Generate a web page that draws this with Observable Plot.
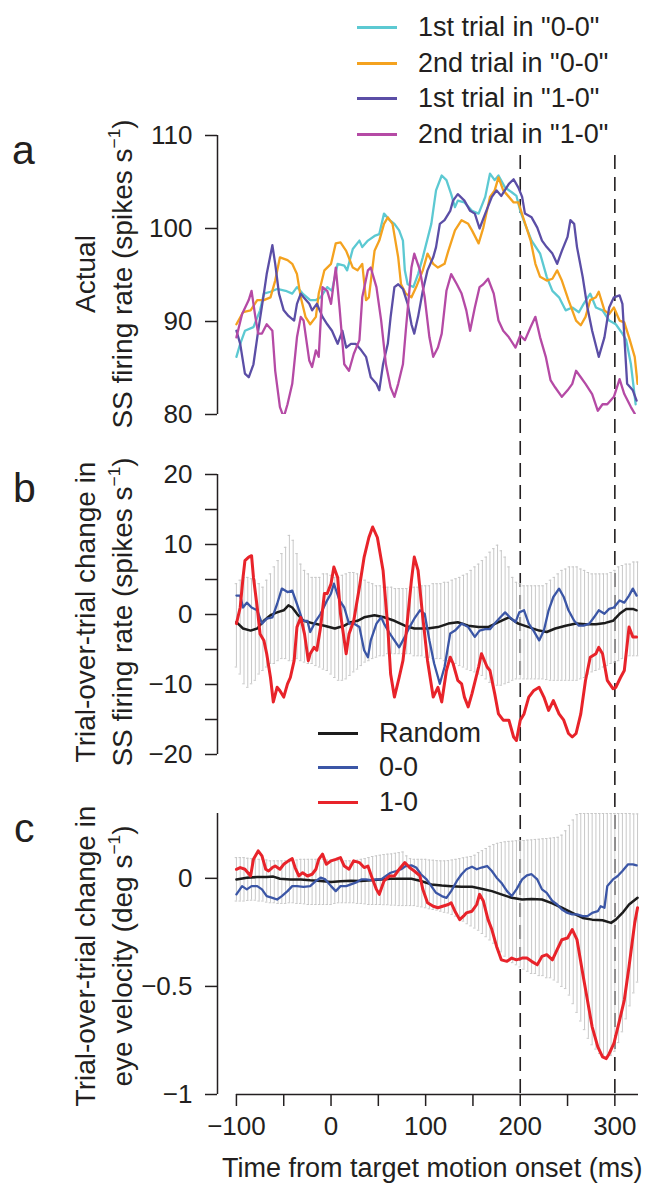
<!DOCTYPE html>
<html><head><meta charset="utf-8">
<script src="https://cdn.jsdelivr.net/npm/d3@7"></script>
<script src="https://cdn.jsdelivr.net/npm/@observablehq/plot@0.6"></script>
<style>
body{margin:0;background:#fff;}
#fig{position:relative;width:662px;height:1197px;font-family:"Liberation Sans",Arial,Helvetica,sans-serif;color:#231f20;overflow:hidden;background:#fff;}
.lbl{position:absolute;white-space:nowrap;line-height:1;font-size:27px;}
.rot{transform:translate(-50%,-50%) rotate(-90deg);font-size:28px;}
.letter{position:absolute;line-height:1;font-size:41px;}
.sw{position:absolute;height:3px;}
sup{font-size:0.62em;line-height:0;vertical-align:0.7em;}
</style></head><body><div id="fig"></div><script>
// ---------- DATA ----------
const xTicks = [-100,-50,0,50,100,150,200,250,300];
const aTicks = [80,90,100,110];
const bTicks = [-20,-15,-10,-5,0,5,10,15,20];
const cTicks = [-1,-0.5,0];
const dashTimes = [200,300];

const legendA = ['1st trial in "0-0"','2nd trial in "0-0"','1st trial in "1-0"','2nd trial in "1-0"'];
const colorsA = ["#5cc9d2","#f4a21f","#5b4ea6","#b54aa5"];
const legendB = ["Random","0-0","1-0"];
const colorsB = ["#1c1c1c","#3b56a6","#e8232a"];

// panel a: actual SS firing rate [ms, spikes/s]
const first00 = [[-100,86.2],[-96,87.6],[-91,89.0],[-82,89.4],[-75,91.2],[-71,93.0],[-64,93.2],[-57,93.5],[-48,93.3],[-41,93.0],[-36,93.7],[-30,93.0],[-22,92.3],[-16,92.3],[-11,92.6],[-4,93.7],[1,93.3],[7,96.2],[14,96.0],[17,95.5],[23,97.8],[30,98.7],[33,98.0],[39,98.7],[46,99.2],[51,99.4],[56,101.6],[62,100.9],[67,100.5],[72,99.8],[76,98.7],[78,95.5],[81,94.0],[87,93.7],[92,95.1],[97,96.9],[106,100.5],[111,104.1],[117,105.7],[122,105.2],[127,103.7],[131,102.3],[134,103.0],[141,102.8],[149,101.9],[156,101.6],[163,103.4],[168,105.9],[173,105.2],[177,105.7],[184,104.4],[191,103.9],[196,103.5],[200,101.9],[205,100.5],[212,98.7],[221,97.3],[228,94.8],[234,93.3],[241,92.6],[248,91.2],[255,91.5],[262,91.0],[267,91.9],[274,93.0],[280,91.5],[287,91.2],[294,90.1],[301,89.7],[308,88.7],[312,88.0],[317,85.4],[322,81.1]];
const second00 = [[-100,89.7],[-93,91.0],[-85,91.2],[-78,92.3],[-71,92.3],[-64,92.6],[-59,94.4],[-54,96.9],[-46,96.6],[-41,96.2],[-36,95.1],[-32,92.6],[-27,90.5],[-22,89.7],[-16,90.5],[-13,93.0],[-7,95.5],[0,96.2],[5,98.4],[10,98.5],[16,97.6],[23,95.8],[28,95.5],[33,96.2],[37,92.3],[40,92.6],[46,97.6],[51,98.7],[56,100.5],[60,101.2],[65,100.5],[71,96.9],[74,94.0],[79,93.0],[85,92.6],[90,93.7],[97,95.5],[102,97.3],[108,96.2],[113,95.8],[120,96.2],[124,97.6],[131,99.8],[138,100.9],[145,100.5],[149,99.8],[156,98.4],[161,100.1],[168,103.4],[173,104.1],[177,105.5],[182,104.1],[188,103.4],[193,102.8],[198,102.8],[204,100.9],[211,98.7],[216,96.2],[221,94.8],[228,94.4],[234,94.6],[239,95.5],[244,94.4],[251,92.3],[259,90.1],[264,89.6],[269,90.5],[274,92.3],[280,92.6],[283,93.2],[289,91.2],[294,90.8],[299,91.5],[305,90.1],[310,89.9],[315,88.3],[321,86.2],[324,83.3]];
const first10 = [[-100,89.0],[-96,87.6],[-91,84.4],[-87,84.0],[-82,85.4],[-77,89.0],[-71,93.0],[-68,95.1],[-62,98.2],[-59,96.2],[-55,93.0],[-50,91.2],[-45,90.6],[-39,90.1],[-36,91.9],[-32,93.0],[-29,92.6],[-23,91.9],[-20,91.2],[-15,91.9],[-9,90.5],[-4,89.7],[1,89.0],[7,87.6],[12,89.0],[16,87.2],[21,87.6],[26,87.6],[32,86.9],[37,86.2],[42,84.0],[48,83.3],[51,82.6],[55,85.4],[60,87.6],[63,90.5],[67,93.7],[71,94.0],[76,93.5],[81,91.9],[85,89.7],[88,88.7],[92,90.5],[97,93.3],[102,95.5],[108,96.9],[111,98.0],[115,100.5],[120,100.9],[126,101.9],[129,103.0],[134,103.7],[141,103.0],[147,101.9],[152,101.6],[157,100.0],[163,101.6],[170,103.4],[175,104.1],[180,103.5],[188,104.8],[193,105.3],[198,104.4],[202,103.4],[205,101.6],[212,101.2],[218,100.1],[223,98.7],[228,98.0],[234,97.3],[239,96.2],[244,97.6],[250,99.1],[253,100.9],[257,100.5],[260,98.0],[266,94.8],[271,91.5],[276,89.0],[283,86.2],[289,88.3],[294,91.5],[299,92.6],[305,92.8],[308,91.9],[313,83.3],[319,82.6],[323,81.5]];
const second10 = [[-100,88.3],[-94,90.8],[-87,92.3],[-84,93.3],[-80,90.5],[-77,88.7],[-73,88.7],[-68,89.7],[-62,89.0],[-59,84.7],[-54,80.8],[-50,79.7],[-46,81.1],[-41,83.3],[-36,88.3],[-32,90.5],[-29,90.1],[-23,85.8],[-20,85.1],[-16,86.9],[-13,86.2],[-9,93.7],[-4,93.3],[0,91.9],[5,95.8],[9,91.5],[14,85.4],[19,84.7],[24,86.5],[30,88.0],[33,92.6],[39,95.5],[42,95.8],[48,93.7],[53,90.1],[58,85.4],[63,82.9],[67,81.9],[71,83.3],[76,85.4],[79,89.0],[85,95.8],[88,97.3],[94,95.5],[99,92.6],[104,88.3],[108,86.2],[113,87.2],[117,88.7],[122,93.3],[127,95.1],[133,94.0],[138,93.0],[143,91.2],[147,89.0],[152,91.5],[157,93.7],[161,94.0],[166,94.6],[172,93.0],[177,90.1],[182,89.0],[188,88.3],[195,87.2],[200,88.5],[205,88.0],[211,89.4],[216,90.5],[221,88.3],[227,86.2],[232,83.7],[237,82.9],[244,81.9],[250,82.6],[255,83.3],[259,84.7],[264,84.0],[269,83.3],[276,82.2],[282,80.4],[287,81.1],[292,81.1],[299,81.9],[305,83.8],[310,82.2],[317,80.8],[321,80.1]];

// panel b: trial-over-trial change in SS firing rate
const bRandom = [[-100,-1.1],[-93,-2.0],[-85,-2.3],[-78,-2.0],[-71,-0.9],[-64,-0.1],[-57,0.3],[-50,0.6],[-45,1.3],[-41,1.0],[-36,0.1],[-29,-0.9],[-18,-1.3],[-7,-1.6],[4,-2.0],[14,-1.6],[21,-1.1],[28,-0.9],[35,-0.4],[46,-0.1],[56,-0.4],[67,-0.9],[78,-1.6],[88,-2.0],[102,-2.0],[113,-1.8],[124,-1.3],[134,-1.1],[145,-1.6],[156,-1.8],[166,-1.8],[177,-1.1],[188,-0.4],[198,-1.3],[209,-1.8],[220,-2.3],[228,-2.5],[237,-2.0],[248,-1.6],[259,-1.3],[269,-1.4],[280,-1.4],[290,-1.2],[298,-0.9],[305,0.1],[312,0.8],[319,0.8],[323,0.6]];
const b00 = [[-100,2.7],[-96,2.7],[-93,1.0],[-89,1.7],[-84,1.0],[-78,0.6],[-73,-1.3],[-68,-0.6],[-62,-0.4],[-57,1.5],[-52,3.7],[-46,3.2],[-41,3.4],[-36,1.5],[-30,-0.9],[-25,-0.9],[-22,-2.5],[-16,-0.9],[-11,0.1],[-5,1.8],[0,3.0],[3,4.4],[9,2.0],[14,1.0],[19,-1.3],[24,-1.3],[30,-1.8],[35,-5.1],[39,-6.1],[42,-3.7],[48,-1.3],[53,-0.4],[56,-1.3],[62,-2.7],[67,-3.7],[72,-4.7],[78,-3.2],[83,-1.8],[88,-0.6],[94,0.6],[99,0.1],[104,-3.7],[109,-7.0],[115,-9.9],[120,-7.5],[126,-2.7],[131,-2.3],[138,-1.3],[145,-1.8],[152,-3.2],[157,-2.3],[163,-2.1],[168,-2.1],[173,-1.3],[179,-0.4],[184,0.3],[189,-0.4],[195,-1.1],[199,0.3],[204,0.6],[209,-1.3],[214,-2.3],[220,-3.7],[225,-2.3],[230,0.6],[235,2.5],[241,3.7],[246,2.5],[251,0.6],[257,-0.9],[262,-1.6],[267,-1.6],[273,-1.3],[278,-0.4],[283,0.6],[289,0.1],[294,0.8],[299,1.0],[305,2.0],[310,1.7],[315,2.7],[319,3.7],[323,2.7]];
const b10 = [[-100,-1.3],[-96,1.0],[-93,5.3],[-91,7.7],[-87,8.2],[-84,8.4],[-82,5.3],[-78,1.0],[-75,-2.8],[-71,-3.7],[-68,-5.6],[-64,-9.0],[-61,-12.5],[-57,-10.4],[-54,-10.9],[-50,-11.8],[-46,-9.9],[-43,-9.0],[-39,-6.6],[-36,-1.8],[-32,-0.4],[-28,-2.8],[-24,-6.6],[-22,-5.6],[-18,-4.7],[-15,-5.1],[-11,-1.8],[-7,3.0],[-4,3.0],[0,4.4],[3,6.8],[7,5.3],[10,0.1],[16,-5.6],[19,-2.8],[24,-0.9],[30,3.9],[35,8.2],[40,11.0],[44,12.5],[49,11.0],[55,6.3],[60,-1.8],[63,-8.5],[67,-11.8],[72,-9.0],[76,-6.6],[79,-3.2],[85,4.9],[88,8.2],[92,6.3],[97,-0.4],[102,-6.6],[108,-11.8],[113,-10.4],[117,-12.5],[122,-8.0],[126,-6.1],[129,-7.0],[134,-9.4],[138,-9.9],[141,-11.8],[145,-13.2],[149,-11.3],[156,-7.5],[159,-5.6],[165,-7.5],[168,-8.0],[173,-11.3],[177,-14.2],[182,-15.1],[188,-15.1],[193,-17.5],[196,-18.0],[200,-15.1],[204,-14.2],[209,-11.8],[214,-10.9],[220,-10.4],[225,-11.8],[230,-13.7],[235,-12.3],[241,-14.2],[246,-15.1],[251,-17.0],[255,-17.5],[259,-17.0],[264,-14.2],[269,-9.4],[274,-6.1],[280,-5.6],[283,-4.7],[287,-5.6],[292,-9.4],[298,-10.6],[301,-10.4],[306,-9.0],[310,-8.0],[315,-1.8],[319,-3.2],[323,-3.2]];
// random spread bars [ms, low, high]
const bBars = [[-100,-7.5,4.4],[-96,-8.5,4.9],[-92,-9.9,5.3],[-88,-10.4,5.3],[-84,-9.9,5.1],[-80,-9.4,4.9],[-76,-8.5,4.4],[-72,-8.0,3.9],[-68,-7.5,4.9],[-64,-7.0,5.8],[-60,-7.0,6.8],[-56,-6.6,7.7],[-52,-6.3,8.7],[-48,-6.3,9.6],[-44,-6.6,11.3],[-40,-6.6,10.6],[-36,-6.3,8.7],[-32,-6.6,7.2],[-28,-6.8,6.3],[-24,-7.0,5.8],[-20,-7.0,5.3],[-16,-7.3,5.3],[-12,-7.5,5.3],[-8,-7.8,5.8],[-4,-8.0,5.8],[0,-8.5,5.6],[4,-9.0,5.3],[8,-9.4,5.3],[12,-9.4,5.6],[16,-9.2,5.8],[20,-8.7,6.0],[24,-8.2,6.0],[28,-7.8,5.8],[32,-7.3,5.3],[36,-6.8,4.9],[40,-6.6,4.6],[44,-6.3,4.4],[48,-6.1,4.1],[52,-5.9,4.1],[56,-5.9,3.9],[60,-5.6,3.9],[64,-5.6,3.9],[68,-5.6,3.7],[72,-5.6,3.7],[76,-5.6,3.7],[80,-5.6,3.7],[84,-5.6,3.9],[88,-5.9,3.9],[92,-5.9,3.9],[96,-5.9,4.1],[100,-6.1,4.1],[104,-6.1,4.1],[108,-6.3,4.4],[112,-6.3,4.4],[116,-6.3,4.4],[120,-6.6,4.6],[124,-6.6,4.6],[128,-6.8,4.9],[132,-7.0,5.1],[136,-7.3,5.3],[140,-7.5,5.6],[144,-7.8,5.8],[148,-8.0,6.3],[152,-8.2,6.8],[156,-8.5,7.2],[160,-8.7,7.7],[164,-9.2,8.2],[168,-9.7,8.9],[172,-9.9,9.4],[176,-10.1,9.9],[180,-10.1,9.1],[184,-9.9,8.2],[188,-9.7,6.8],[192,-9.4,5.3],[196,-9.2,4.6],[200,-9.2,4.4],[204,-9.2,4.1],[208,-9.2,4.1],[212,-9.2,4.1],[216,-9.2,4.1],[220,-9.2,4.1],[224,-9.2,4.1],[228,-9.3,4.4],[232,-9.4,4.9],[236,-9.4,5.3],[240,-9.4,5.8],[244,-9.4,6.3],[248,-9.4,6.5],[252,-9.4,6.8],[256,-9.4,6.8],[260,-9.4,6.8],[264,-9.2,6.5],[268,-9.0,6.3],[272,-8.5,6.0],[276,-8.2,5.8],[280,-8.0,5.8],[284,-7.8,5.8],[288,-7.5,5.8],[292,-7.3,5.8],[296,-7.0,6.0],[300,-6.8,6.3],[304,-6.6,6.8],[308,-6.3,7.0],[312,-6.1,7.2],[316,-5.9,7.2],[320,-5.9,7.5],[324,-5.9,7.5]];

// panel c: trial-over-trial change in eye velocity
const cRandom = [[-100,-0.005],[-89,0.003],[-78,0.006],[-68,0.006],[-61,0.008],[-54,-0.002],[-43,-0.005],[-32,-0.005],[-22,-0.009],[-11,-0.012],[0,-0.017],[10,-0.014],[21,-0.011],[32,-0.012],[42,-0.009],[53,-0.005],[63,-0.002],[74,-0.002],[85,-0.002],[95,-0.012],[106,-0.028],[117,-0.033],[127,-0.036],[138,-0.039],[149,-0.039],[159,-0.048],[170,-0.059],[180,-0.074],[191,-0.090],[202,-0.098],[212,-0.095],[223,-0.098],[234,-0.116],[244,-0.136],[255,-0.160],[266,-0.183],[276,-0.191],[287,-0.194],[296,-0.206],[301,-0.191],[308,-0.160],[315,-0.121],[324,-0.090]];
const c00 = [[-100,-0.074],[-94,-0.036],[-89,-0.051],[-84,-0.036],[-78,-0.036],[-73,-0.051],[-68,-0.082],[-62,-0.090],[-57,-0.098],[-52,-0.082],[-46,-0.059],[-41,-0.036],[-36,-0.036],[-29,-0.039],[-22,-0.036],[-16,-0.012],[-11,0.003],[-6,-0.005],[0,-0.036],[5,-0.059],[10,-0.036],[16,-0.036],[21,-0.028],[26,-0.020],[32,-0.005],[37,-0.005],[42,-0.008],[48,-0.005],[53,-0.005],[58,0.011],[63,0.026],[69,0.034],[74,0.042],[79,0.057],[85,0.060],[90,0.050],[95,0.019],[101,-0.005],[106,-0.036],[111,-0.067],[117,-0.082],[122,-0.090],[127,-0.059],[133,-0.012],[138,0.019],[143,0.042],[149,0.054],[154,0.042],[159,0.050],[165,0.057],[170,0.034],[175,0.003],[180,-0.020],[186,-0.059],[191,-0.082],[196,-0.051],[202,-0.005],[207,0.014],[212,0.019],[218,-0.005],[223,-0.051],[228,-0.067],[234,-0.105],[239,-0.121],[244,-0.144],[250,-0.160],[255,-0.167],[260,-0.167],[266,-0.175],[271,-0.175],[276,-0.160],[282,-0.152],[285,-0.129],[289,-0.136],[292,-0.036],[298,-0.005],[303,0.011],[308,0.034],[314,0.065],[319,0.065],[323,0.060]];
const c10 = [[-100,0.042],[-96,0.050],[-91,0.042],[-85,0.011],[-82,0.088],[-77,0.127],[-73,0.104],[-69,0.042],[-66,0.034],[-62,0.050],[-59,0.057],[-54,0.042],[-50,0.065],[-45,0.081],[-41,0.091],[-38,0.050],[-34,0.011],[-30,0.026],[-25,0.011],[-20,0.019],[-16,0.042],[-13,0.088],[-9,0.112],[-5,0.065],[0,0.081],[5,0.088],[10,0.096],[14,0.057],[19,0.042],[24,0.081],[30,0.073],[35,0.050],[39,0.057],[44,-0.005],[48,-0.051],[51,-0.074],[56,-0.012],[62,0.011],[67,0.011],[72,0.042],[78,0.073],[83,0.050],[88,0.034],[94,0.011],[97,-0.051],[102,-0.113],[108,-0.129],[113,-0.136],[118,-0.129],[124,-0.121],[127,-0.113],[131,-0.152],[136,-0.191],[140,-0.175],[143,-0.160],[149,-0.152],[154,-0.121],[157,-0.074],[161,-0.105],[166,-0.191],[170,-0.237],[175,-0.315],[180,-0.377],[186,-0.384],[191,-0.369],[196,-0.377],[202,-0.369],[207,-0.369],[212,-0.384],[218,-0.400],[223,-0.361],[228,-0.353],[234,-0.377],[239,-0.330],[244,-0.284],[250,-0.276],[255,-0.237],[260,-0.284],[266,-0.439],[271,-0.563],[276,-0.687],[282,-0.780],[287,-0.826],[291,-0.834],[294,-0.811],[299,-0.764],[305,-0.656],[310,-0.563],[315,-0.408],[321,-0.206],[324,-0.136]];
const cBars = [[-100,-0.105,0.096],[-96,-0.105,0.096],[-92,-0.105,0.096],[-88,-0.102,0.093],[-84,-0.101,0.091],[-80,-0.101,0.088],[-76,-0.105,0.088],[-72,-0.105,0.088],[-68,-0.110,0.085],[-64,-0.113,0.081],[-60,-0.113,0.081],[-56,-0.116,0.081],[-52,-0.116,0.081],[-48,-0.116,0.081],[-44,-0.113,0.081],[-40,-0.113,0.081],[-36,-0.116,0.085],[-32,-0.116,0.088],[-28,-0.118,0.088],[-24,-0.121,0.088],[-20,-0.121,0.088],[-16,-0.121,0.088],[-12,-0.121,0.088],[-8,-0.121,0.088],[-4,-0.121,0.085],[0,-0.121,0.085],[4,-0.116,0.082],[8,-0.113,0.081],[12,-0.113,0.081],[16,-0.113,0.081],[20,-0.113,0.081],[24,-0.113,0.081],[28,-0.116,0.084],[32,-0.116,0.088],[36,-0.118,0.091],[40,-0.121,0.096],[44,-0.121,0.101],[48,-0.121,0.104],[52,-0.121,0.107],[56,-0.122,0.110],[60,-0.122,0.112],[64,-0.124,0.113],[68,-0.124,0.116],[72,-0.126,0.119],[76,-0.126,0.122],[80,-0.126,0.104],[84,-0.126,0.091],[88,-0.126,0.088],[92,-0.129,0.088],[96,-0.132,0.088],[100,-0.136,0.088],[104,-0.141,0.085],[108,-0.144,0.084],[112,-0.147,0.082],[116,-0.152,0.081],[120,-0.157,0.081],[124,-0.160,0.082],[128,-0.167,0.085],[132,-0.175,0.088],[136,-0.188,0.091],[140,-0.198,0.095],[144,-0.210,0.098],[148,-0.220,0.101],[152,-0.230,0.107],[156,-0.240,0.119],[160,-0.255,0.128],[164,-0.270,0.138],[168,-0.285,0.148],[172,-0.300,0.156],[176,-0.320,0.162],[180,-0.340,0.166],[184,-0.360,0.169],[188,-0.380,0.171],[192,-0.390,0.172],[196,-0.400,0.174],[200,-0.410,0.174],[204,-0.420,0.175],[208,-0.430,0.177],[212,-0.440,0.178],[216,-0.440,0.180],[220,-0.450,0.181],[224,-0.450,0.183],[228,-0.460,0.184],[232,-0.460,0.186],[236,-0.470,0.188],[240,-0.480,0.190],[244,-0.500,0.200],[248,-0.510,0.220],[252,-0.540,0.245],[256,-0.580,0.270],[260,-0.620,0.295],[264,-0.660,0.300],[268,-0.700,0.300],[272,-0.740,0.300],[276,-0.770,0.300],[280,-0.790,0.300],[284,-0.810,0.300],[288,-0.820,0.300],[292,-0.826,0.300],[296,-0.820,0.300],[300,-0.800,0.300],[304,-0.760,0.300],[308,-0.710,0.300],[312,-0.650,0.300],[316,-0.590,0.300],[320,-0.530,0.298],[324,-0.480,0.298]];

// ---------- DRAW ----------
const fig = document.getElementById("fig");
const FONT = '"Liberation Sans", Arial, Helvetica, sans-serif';
const INK = "#231f20";
const X_DOMAIN = [-120, 325];
const W = 662, ML = 217, MR = 24;
const minus = d => d < 0 ? "\u2212" + Math.abs(d) : String(d);
const baseStyle = {background: "transparent", fontSize: "26px", fontFamily: FONT, color: INK, overflow: "visible"};
function place(svg, top) {
  svg.style.position = "absolute"; svg.style.left = "0px"; svg.style.top = top + "px";
  fig.appendChild(svg);
}
const gx = d => d[0], gy = d => d[1];
const yAxis = (ticks, fmt) => Plot.axisY({ticks, tickSize: 12, tickPadding: 13, tickFormat: fmt, strokeWidth: 1.5, label: null, stroke: INK});
const bars = (data, color) => [
  Plot.ruleX(data, {x: d => d[0], y1: d => d[1], y2: d => d[2], stroke: color, strokeWidth: 1}),
  Plot.ruleY(data, {y: d => d[2], x1: d => d[0] - 1.3, x2: d => d[0] + 1.3, stroke: color, strokeWidth: 1}),
  Plot.ruleY(data, {y: d => d[1], x1: d => d[0] - 1.3, x2: d => d[0] + 1.3, stroke: color, strokeWidth: 1})
];

// dashed reference lines spanning all panels
place(Plot.plot({
  width: W, height: 1197, marginLeft: ML, marginRight: MR, marginTop: 155, marginBottom: 103,
  style: baseStyle,
  x: {domain: X_DOMAIN, axis: null}, y: {domain: [0, 1], axis: null},
  marks: [Plot.ruleX(dashTimes, {stroke: INK, strokeWidth: 1.6, strokeDasharray: "14,8"})]
}), 0);

// panel a
const seriesA = [first00, second00, first10, second10];
place(Plot.plot({
  width: W, height: 440, marginLeft: ML, marginRight: MR, marginTop: 135, marginBottom: 26,
  style: baseStyle,
  x: {domain: X_DOMAIN, axis: null}, y: {domain: [80, 110]},
  marks: [
    Plot.ruleX([X_DOMAIN[0]], {y1: 80, y2: 110, stroke: INK, strokeWidth: 1.5}),
    yAxis(aTicks, minus),
    ...seriesA.map((s, i) => Plot.line(s, {x: gx, y: gy, stroke: colorsA[i], strokeWidth: 2.3, clip: true}))
  ]
}), 0);

// panel b
place(Plot.plot({
  width: W, height: 334, marginLeft: ML, marginRight: MR, marginTop: 34, marginBottom: 20,
  style: baseStyle,
  x: {domain: X_DOMAIN, axis: null}, y: {domain: [-20, 20]},
  marks: [
    ...bars(bBars, "#c8c8c8"),
    Plot.ruleX([X_DOMAIN[0]], {y1: -20, y2: 20, stroke: INK, strokeWidth: 1.5}),
    yAxis(bTicks, d => d % 10 === 0 ? minus(d) : ""),
    Plot.line(bRandom, {x: gx, y: gy, stroke: colorsB[0], strokeWidth: 2.5}),
    Plot.line(b00, {x: gx, y: gy, stroke: colorsB[1], strokeWidth: 2.3}),
    Plot.line(b10, {x: gx, y: gy, stroke: colorsB[2], strokeWidth: 3})
  ]
}), 440);

// panel c
place(Plot.plot({
  width: W, height: 423, marginLeft: ML, marginRight: MR, marginTop: 39, marginBottom: 103,
  style: baseStyle,
  x: {domain: X_DOMAIN}, y: {domain: [-1, 0.3]},
  marks: [
    ...bars(cBars, "#c8c8c8"),
    Plot.ruleX([X_DOMAIN[0]], {y1: -1, y2: 0.3, stroke: INK, strokeWidth: 1.5}),
    Plot.ruleY([-1], {x1: -100, x2: X_DOMAIN[1], stroke: INK, strokeWidth: 1.5}),
    yAxis(cTicks, minus),
    Plot.axisX({ticks: xTicks, tickSize: 12, tickPadding: 10, tickFormat: d => d % 100 === 0 ? minus(d) : "", strokeWidth: 1.5, label: null, stroke: INK}),
    Plot.line(cRandom, {x: gx, y: gy, stroke: colorsB[0], strokeWidth: 2.5}),
    Plot.line(c00, {x: gx, y: gy, stroke: colorsB[1], strokeWidth: 2.3}),
    Plot.line(c10, {x: gx, y: gy, stroke: colorsB[2], strokeWidth: 3})
  ]
}), 774);

// ---------- TEXT: legends, labels ----------
function addText(html, cls, css) {
  const el = document.createElement("div");
  el.className = cls; el.innerHTML = html;
  Object.assign(el.style, css);
  fig.appendChild(el);
  return el;
}
const rowsA = [27, 63, 98, 134];
legendA.forEach((t, i) => {
  addText("", "sw", {left: "357px", width: "40px", top: (rowsA[i] - 1.5) + "px", background: colorsA[i]});
  addText(t.replace(/"/g, "&quot;"), "lbl", {left: "418px", top: (rowsA[i] - 13) + "px"});
});
const rowsB = [733, 767, 802];
legendB.forEach((t, i) => {
  addText("", "sw", {left: "318px", width: "40px", top: (rowsB[i] - 1.5) + "px", background: colorsB[i]});
  addText(t, "lbl", {left: "379px", top: (rowsB[i] - 13) + "px"});
});
// panel letters
addText("a", "letter", {left: "12px", top: "130px"});
addText("b", "letter", {left: "13px", top: "468px"});
addText("c", "letter", {left: "14px", top: "808px"});
// y-axis titles (rotated)
const rotLbl = (html, cx, cy) => addText(html, "lbl rot", {left: cx + "px", top: cy + "px"});
rotLbl("Actual", 86, 274);
rotLbl("SS firing rate (spikes s<sup>\u22121</sup>)", 123, 274);
rotLbl("Trial-over-trial change in", 86, 612);
rotLbl("SS firing rate (spikes s<sup>\u22121</sup>)", 123, 612);
rotLbl("Trial-over-trial change in", 86, 956);
rotLbl("eye velocity (deg s<sup>\u22121</sup>)", 123, 956);
// x-axis title
addText("Time from target motion onset (ms)", "lbl", {left: "222px", top: "1155px"});
</script></body></html>
